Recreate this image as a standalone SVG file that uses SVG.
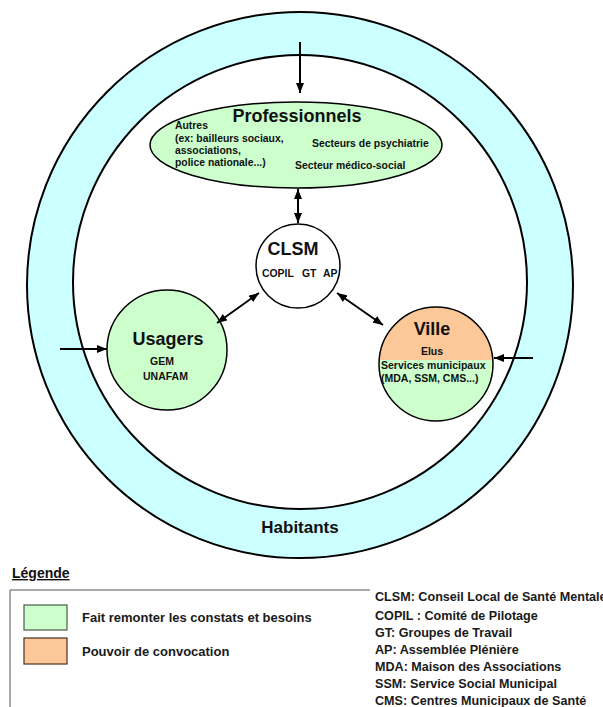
<svg xmlns="http://www.w3.org/2000/svg" width="603" height="707" viewBox="0 0 603 707">
  <style>
    .ring { stroke: #000; stroke-width: 2; }
    .node { stroke: #000; stroke-width: 1.5; }
    .green { fill: #ccffcc; }
    .orange { fill: #fcc898; }
    .t { font-family: "Liberation Sans", Arial, sans-serif; fill: #111; font-weight: bold; }
    .big { font-size: 18px; }
    .small { font-size: 10.4px; }
    .mid { font-size: 10.5px; }
    .leg { font-family: "Liberation Sans", Arial, sans-serif; fill: #1a1a1a; font-size: 13px; font-weight: bold; }
    .abbr { font-size: 12.6px; }
    .conn { stroke: #000; stroke-width: 2; fill: none; }
  </style>
  <defs>
    <marker id="arrow" viewBox="0 0 10 8" refX="10" refY="4" markerWidth="10" markerHeight="8" markerUnits="userSpaceOnUse" orient="auto-start-reverse">
      <path d="M0,0 L10,4 L0,8 z" fill="#000"/>
    </marker>
    <clipPath id="villeClip">
      <circle cx="436" cy="364" r="57"/>
    </clipPath>
  </defs>

  <rect width="603" height="707" fill="#fff"/>

  <!-- Habitants ring -->
  <g id="habitants">
    <circle class="ring" cx="300" cy="285" r="273" fill="#ccffff"/>
    <circle class="ring" cx="300" cy="282" r="227" fill="#fff"/>
    <text class="t" x="300" y="533" font-size="17" text-anchor="middle">Habitants</text>
  </g>

  <!-- Professionnels -->
  <g id="professionnels">
    <ellipse class="node green" cx="296" cy="145" rx="146" ry="43"/>
    <text class="t big" x="297" y="122" text-anchor="middle">Professionnels</text>
    <text class="t small" x="175" y="129">Autres</text>
    <text class="t small" x="175" y="142">(ex: bailleurs sociaux,</text>
    <text class="t small" x="175" y="154">associations,</text>
    <text class="t small" x="175" y="166">police nationale...)</text>
    <text class="t small" x="312" y="147">Secteurs de psychiatrie</text>
    <text class="t small" x="295" y="169">Secteur médico-social</text>
  </g>

  <!-- CLSM -->
  <g id="clsm">
    <circle class="node" cx="298" cy="266" r="42" fill="#fff"/>
    <text class="t big" x="293" y="255" text-anchor="middle">CLSM</text>
    <text class="t small" x="262" y="277">COPIL</text>
    <text class="t small" x="302" y="277">GT</text>
    <text class="t small" x="323" y="277">AP</text>
  </g>

  <!-- Usagers -->
  <g id="usagers">
    <circle class="node green" cx="167" cy="350" r="60"/>
    <text class="t big" x="168" y="345" text-anchor="middle">Usagers</text>
    <text class="t mid" x="150" y="365">GEM</text>
    <text class="t mid" x="143" y="380">UNAFAM</text>
  </g>

  <!-- Ville -->
  <g id="ville">
    <g clip-path="url(#villeClip)">
      <rect class="orange" x="370" y="300" width="140" height="60"/>
      <rect class="green" x="370" y="360" width="140" height="70"/>
    </g>
    <circle class="node" cx="436" cy="364" r="57" fill="none"/>
    <text class="t big" x="432" y="335" text-anchor="middle">Ville</text>
    <text class="t mid" x="432" y="355" text-anchor="middle">Elus</text>
    <text class="t mid" x="381" y="369">Services municipaux</text>
    <text class="t mid" x="381" y="382">(MDA, SSM, CMS...)</text>
  </g>

  <!-- Connectors -->
  <g id="connectors">
    <path class="conn" d="M300,42 L300,93" marker-end="url(#arrow)"/>
    <path class="conn" d="M298,189 L298,223" marker-start="url(#arrow)" marker-end="url(#arrow)"/>
    <path class="conn" d="M217,323 L259,293" marker-start="url(#arrow)" marker-end="url(#arrow)"/>
    <path class="conn" d="M337,293 L383,325" marker-start="url(#arrow)" marker-end="url(#arrow)"/>
    <path class="conn" d="M60,349 L107,349" marker-end="url(#arrow)"/>
    <path class="conn" d="M533,358 L494,358" marker-end="url(#arrow)"/>
  </g>

  <!-- Legend -->
  <g id="legende">
    <text class="t" x="12" y="578" font-size="14" text-decoration="underline">Légende</text>
    <path d="M370,590 L10,590 L10,710" fill="none" stroke="#555" stroke-width="1"/>
    <rect x="24" y="605" width="43" height="25" fill="#ccffcc" stroke="#4a5a4a" stroke-width="1.2"/>
    <rect x="24" y="638" width="43" height="26" fill="#fcc898" stroke="#4a3020" stroke-width="1.2"/>
    <text class="leg" x="82" y="622">Fait remonter les constats et besoins</text>
    <text class="leg" x="82" y="656">Pouvoir de convocation</text>
    <text class="leg abbr" x="375" y="601">CLSM: Conseil Local de Santé Mentale</text>
    <text class="leg abbr" x="375" y="620">COPIL : Comité de Pilotage</text>
    <text class="leg abbr" x="375" y="637">GT: Groupes de Travail</text>
    <text class="leg abbr" x="375" y="654">AP: Assemblée Plénière</text>
    <text class="leg abbr" x="375" y="671">MDA: Maison des Associations</text>
    <text class="leg abbr" x="375" y="688">SSM: Service Social Municipal</text>
    <text class="leg abbr" x="375" y="705">CMS: Centres Municipaux de Santé</text>
  </g>
</svg>
